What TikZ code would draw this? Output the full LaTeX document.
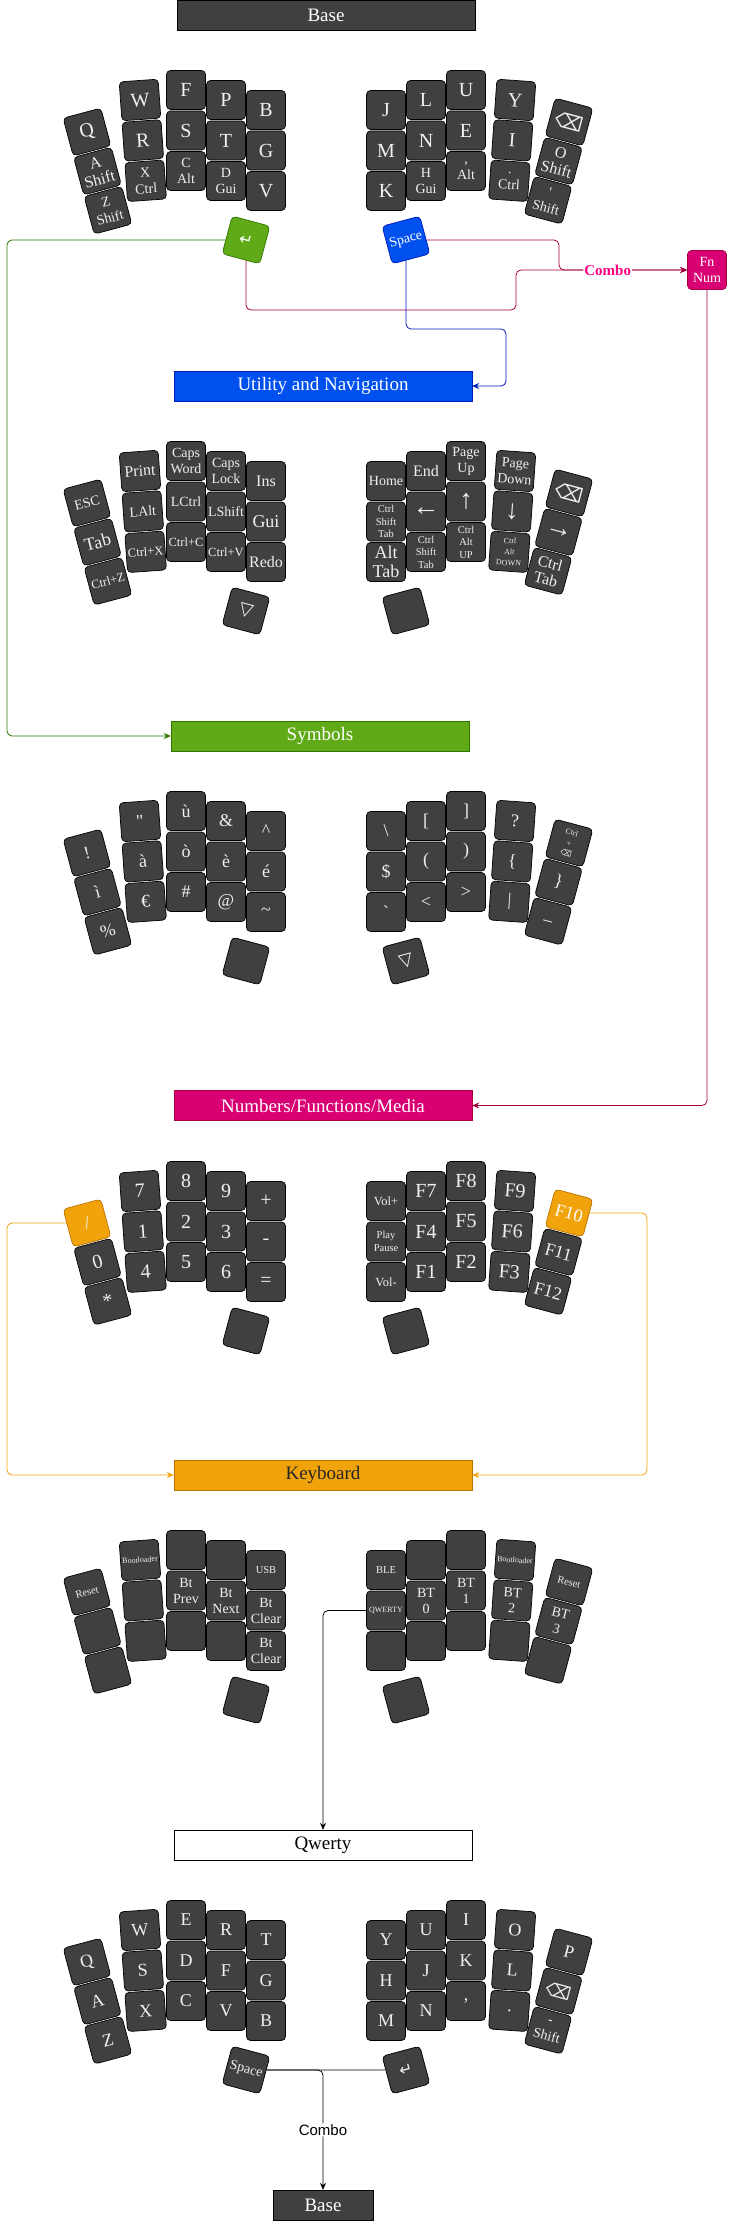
\documentclass[tikz,border=0pt]{standalone}
\usepackage{fontspec}
\setmainfont{Liberation Serif}
\setsansfont{Liberation Sans}
\newfontfamily\symb{DejaVu Sans}
\usepackage{xcolor}
\usetikzlibrary{positioning, arrows.meta}

\definecolor{keygray}{HTML}{404040}
\definecolor{keytext}{HTML}{F0F0F0}
\definecolor{blufill}{HTML}{0050EF}
\definecolor{bluline}{HTML}{001DBC}
\definecolor{grnfill}{HTML}{60A917}
\definecolor{grnline}{HTML}{2D7600}
\definecolor{pnkfill}{HTML}{D80073}
\definecolor{pnkline}{HTML}{A50040}
\definecolor{orgfill}{HTML}{F0A30A}
\definecolor{orgline}{HTML}{BD7000}
\definecolor{combopink}{HTML}{FF0080}

\newcommand{\bksp}{{\symb ⌫}}

\tikzset{
    keycap/.style={draw=black, fill=keygray, text=keytext, rounded corners=4pt,
        minimum width=39pt, minimum height=39pt, inner sep=0pt, align=center, line width=0.7pt},
    farrow/.style={font=\fontsize{27}{28}\selectfont},
    fbig/.style={font=\fontsize{20}{21}\selectfont},
    flg/.style={font=\fontsize{18}{19}\selectfont},
    fmid/.style={font=\fontsize{16}{17}\selectfont},
    fsm/.style={font=\fontsize{14}{16}\selectfont},
    fxs/.style={font=\fontsize{12.5}{14}\selectfont},
    fxxs/.style={font=\fontsize{10.5}{12.5}\selectfont},
    ftiny/.style={font=\fontsize{8}{11}\selectfont},
    greenkey/.style={fill=grnfill, draw=grnline, text=white},
    bluekey/.style={fill=blufill, draw=bluline, text=white},
    pinkkey/.style={fill=pnkfill, draw=pnkline, text=white},
    orangekey/.style={fill=orgfill, draw=orgline, text=white, font=\fontsize{18}{19}\selectfont},
    layerbar/.style={draw, minimum width=298pt, minimum height=30pt, inner sep=0pt,
        font=\fontsize{19}{21}\selectfont},
    link/.style={line width=0.8pt, rounded corners=5pt, -{Stealth[length=7pt,width=6pt]}},
    combolabel/.style={fill=white, inner sep=1pt}
}

% one column of keys: name, x, y of first key, angle, style/label list
\newcommand{\keycol}[5]{%
    \foreach \ks/\kl [count=\kn] in {#5}
        \node[keycap, \ks, rotate=#4] (#1\kn) at ({#2+(\kn-1)*40.5*sin(#4)}, {#3+(\kn-1)*40.5*cos(#4)}) {\kl};
}

\begin{document}
\begin{tikzpicture}[x=1pt, y=-1pt]

    \useasboundingbox (0,0) rectangle (728,2221);

    % Layer title bars
    \node[layerbar, fill=keygray, text=white] (basebar) at (326,15.5) {Base};
    \node[layerbar, fill=blufill, draw=bluline, text=white] (utilbar) at (323,386) {Utility and Navigation};
    \node[layerbar, fill=grnfill, draw=grnline, text=white] (symbar) at (320,736) {Symbols};
    \node[layerbar, fill=pnkfill, draw=pnkline, text=white] (numbar) at (323,1105.5) {Numbers/Functions/Media};
    \node[layerbar, fill=orgfill, draw=orgline, text=black!85] (kbdbar) at (323,1475) {Keyboard};
    \node[layerbar, fill=white] (qwbar) at (323,1845) {Qwerty};
    \node[layerbar, fill=keygray, text=white, minimum width=100pt] (basebot) at (323,2205) {Base};

    % Base layer
    \begin{scope}[shift={(0,0)}]
        \keycol{bL1}{87}{132}{15}{fbig/Q, fmid/{A\\Shift}, fsm/{Z\\Shift}}
        \keycol{bL2}{140}{100}{4}{fbig/W, fbig/R, fsm/{X\\Ctrl}}
        \keycol{bL3}{186}{90}{0}{fbig/F, fbig/S, fsm/{C\\Alt}}
        \keycol{bL4}{226}{100}{0}{fbig/P, fbig/T, fsm/{D\\Gui}}
        \keycol{bL5}{266}{110}{0}{fbig/B, fbig/G, fbig/V}
        \node[keycap, greenkey, fmid, rotate=-15] (bLT) at (246,240) {\symb ↵};
        \keycol{bR1}{386}{110}{0}{fbig/J, fbig/M, fbig/K}
        \keycol{bR2}{426}{100}{0}{fbig/L, fbig/N, fsm/{H\\Gui}}
        \keycol{bR3}{466}{90}{0}{fbig/U, fbig/E, fsm/{,\\Alt}}
        \keycol{bR4}{515}{100}{-4}{fbig/Y, fbig/I, fsm/{.\\Ctrl}}
        \keycol{bR5}{569}{122}{-15}{fbig/\bksp, fmid/{O\\Shift}, fsm/{\textquotesingle\\Shift}}
        \node[keycap, bluekey, fsm, rotate=15] (bRT) at (406,240) {Space};
    \end{scope}

    \node[keycap, pinkkey, fsm] (fnnum) at (707,270) {Fn\\Num};

    % Utility and Navigation layer
    \begin{scope}[shift={(0,371)}]
        \keycol{uL1}{87}{132}{15}{fsm/ESC, flg/Tab, fxs/{Ctrl+Z}}
        \keycol{uL2}{140}{100}{4}{fmid/Print, fsm/LAlt, fxs/{Ctrl+X}}
        \keycol{uL3}{186}{90}{0}{fsm/{Caps\\Word}, fsm/LCtrl, fxs/{Ctrl+C}}
        \keycol{uL4}{226}{100}{0}{fsm/{Caps\\Lock}, fsm/LShift, fxs/{Ctrl+V}}
        \keycol{uL5}{266}{110}{0}{fmid/Ins, flg/Gui, fmid/Redo}
        \node[keycap, flg, rotate=-15] (uLT) at (246,240) {\symb ▽};
        \keycol{uR1}{386}{110}{0}{fsm/Home, fxxs/{Ctrl\\Shift\\Tab}, flg/{Alt\\Tab}}
        \keycol{uR2}{426}{100}{0}{fmid/End, farrow/←, fxxs/{Ctrl\\Shift\\Tab}}
        \keycol{uR3}{466}{90}{0}{fsm/{Page\\Up}, farrow/↑, fxxs/{Ctrl\\Alt\\UP}}
        \keycol{uR4}{515}{100}{-4}{fsm/{Page\\Down}, farrow/↓, ftiny/{Ctrl\\Alt\\DOWN}}
        \keycol{uR5}{569}{122}{-15}{fbig/\bksp, farrow/→, fmid/{Ctrl\\Tab}}
        \node[keycap, rotate=15] (uRT) at (406,240) {};
    \end{scope}

    % Symbols layer
    \begin{scope}[shift={(0,721)}]
        \keycol{sL1}{87}{132}{15}{flg/!, flg/ì, flg/\%}
        \keycol{sL2}{140}{100}{4}{flg/\textquotedbl, flg/à, flg/€}
        \keycol{sL3}{186}{90}{0}{flg/ù, flg/ò, flg/\#}
        \keycol{sL4}{226}{100}{0}{flg/\&, flg/è, flg/@}
        \keycol{sL5}{266}{110}{0}{flg/\textasciicircum, flg/é, flg/\textasciitilde}
        \node[keycap, rotate=-15] (sLT) at (246,240) {};
        \keycol{sR1}{386}{110}{0}{flg/\textbackslash, flg/\$, flg/\textasciigrave}
        \keycol{sR2}{426}{100}{0}{flg/{[}, flg/{(}, flg/{<}}
        \keycol{sR3}{466}{90}{0}{flg/{]}, flg/{)}, flg/{>}}
        \keycol{sR4}{515}{100}{-4}{flg/?, flg/\{, flg/\textbar}
        \keycol{sR5}{569}{122}{-15}{ftiny/{Ctrl\\+\\\bksp}, flg/\}, flg/\_}
        \node[keycap, flg, rotate=15] (sRT) at (406,240) {\symb ▽};
    \end{scope}

    % Numbers/Functions/Media layer
    \begin{scope}[shift={(0,1091)}]
        \keycol{nL1}{87}{132}{15}{orangekey/{/}, fbig/0, fbig/*}
        \keycol{nL2}{140}{100}{4}{fbig/7, fbig/1, fbig/4}
        \keycol{nL3}{186}{90}{0}{fbig/8, fbig/2, fbig/5}
        \keycol{nL4}{226}{100}{0}{fbig/9, fbig/3, fbig/6}
        \keycol{nL5}{266}{110}{0}{fbig/+, fbig/-, fbig/=}
        \node[keycap, rotate=-15] (nLT) at (246,240) {};
        \keycol{nR1}{386}{110}{0}{fxs/Vol+, fxxs/{Play\\Pause}, fxs/Vol-}
        \keycol{nR2}{426}{100}{0}{fbig/F7, fbig/F4, fbig/F1}
        \keycol{nR3}{466}{90}{0}{fbig/F8, fbig/F5, fbig/F2}
        \keycol{nR4}{515}{100}{-4}{fbig/F9, fbig/F6, fbig/F3}
        \keycol{nR5}{569}{122}{-15}{orangekey/F10, flg/F11, flg/F12}
        \node[keycap, rotate=15] (nRT) at (406,240) {};
    \end{scope}

    % Keyboard layer
    \begin{scope}[shift={(0,1460)}]
        \keycol{kL1}{87}{132}{15}{fxxs/Reset, fbig/{}, fbig/{}}
        \keycol{kL2}{140}{100}{4}{ftiny/Bootloader, fbig/{}, fbig/{}}
        \keycol{kL3}{186}{90}{0}{fbig/{}, fsm/{Bt\\Prev}, fbig/{}}
        \keycol{kL4}{226}{100}{0}{fbig/{}, fsm/{Bt\\Next}, fbig/{}}
        \keycol{kL5}{266}{110}{0}{fxxs/USB, fsm/{Bt\\Clear}, fsm/{Bt\\Clear}}
        \node[keycap, rotate=-15] (kLT) at (246,240) {};
        \keycol{kR1}{386}{110}{0}{fxxs/BLE, ftiny/QWERTY, fbig/{}}
        \keycol{kR2}{426}{100}{0}{fbig/{}, fsm/{BT\\0}, fbig/{}}
        \keycol{kR3}{466}{90}{0}{fbig/{}, fsm/{BT\\1}, fbig/{}}
        \keycol{kR4}{515}{100}{-4}{ftiny/Bootloader, fsm/{BT\\2}, fbig/{}}
        \keycol{kR5}{569}{122}{-15}{fxxs/Reset, fsm/{BT\\3}, fbig/{}}
        \node[keycap, rotate=15] (kRT) at (406,240) {};
    \end{scope}

    % Qwerty layer
    \begin{scope}[shift={(0,1830)}]
        \keycol{qL1}{87}{132}{15}{flg/Q, flg/A, flg/Z}
        \keycol{qL2}{140}{100}{4}{flg/W, flg/S, flg/X}
        \keycol{qL3}{186}{90}{0}{flg/E, flg/D, flg/C}
        \keycol{qL4}{226}{100}{0}{flg/R, flg/F, flg/V}
        \keycol{qL5}{266}{110}{0}{flg/T, flg/G, flg/B}
        \node[keycap, fsm, rotate=-15] (qLT) at (246,240) {Space};
        \keycol{qR1}{386}{110}{0}{flg/Y, flg/H, flg/M}
        \keycol{qR2}{426}{100}{0}{flg/U, flg/J, flg/N}
        \keycol{qR3}{466}{90}{0}{flg/I, flg/K, flg/{,}}
        \keycol{qR4}{515}{100}{-4}{flg/O, flg/L, flg/.}
        \keycol{qR5}{569}{122}{-15}{flg/P, flg/\bksp, fsm/{-\\Shift}}
        \node[keycap, fmid, rotate=15] (qRT) at (406,240) {\symb ↵};
    \end{scope}

    % Bend points of the connectors
    \coordinate (gbend) at (7,736);
    \coordinate (cb1) at (516,310);
    \coordinate (cb2) at (559,270);
    \coordinate (bb1) at (506,329);
    \coordinate (ob1) at (7,1475);
    \coordinate (ob2) at (647,1475);

    % Enter held -> Symbols
    \draw[link, grnline] (bLT) -| (gbend) -- (symbar);

    % Enter + Space combo -> Fn Num
    \draw[link, pnkline] (bLT) |- (cb1) |- (fnnum);
    \draw[link, pnkline] (bRT) -| (cb2) -- node[pos=0.38, combolabel, text=combopink, font=\fontsize{15}{16}\selectfont\bfseries] {Combo} (fnnum);

    % Space held -> Utility and Navigation
    \draw[link, bluline] (bRT) |- (bb1) |- (utilbar);

    % Fn Num -> Numbers/Functions/Media
    \draw[link, pnkline] (fnnum) |- (numbar);

    % / and F10 -> Keyboard
    \draw[link, orgfill] (nL11) -| (ob1) -- (kbdbar);
    \draw[link, orgfill] (nR51) -| (ob2) -- (kbdbar);

    % QWERTY -> Qwerty
    \draw[link, black] (kR12) -| (qwbar);

    % Space + Enter combo -> Base
    \draw[line width=0.8pt] (qLT) -- (qRT);
    \draw[link, black] (qLT) -| node[pos=0.75, combolabel, font=\sffamily\fontsize{15}{16}\selectfont] {Combo} (basebot);

\end{tikzpicture}
\end{document}
